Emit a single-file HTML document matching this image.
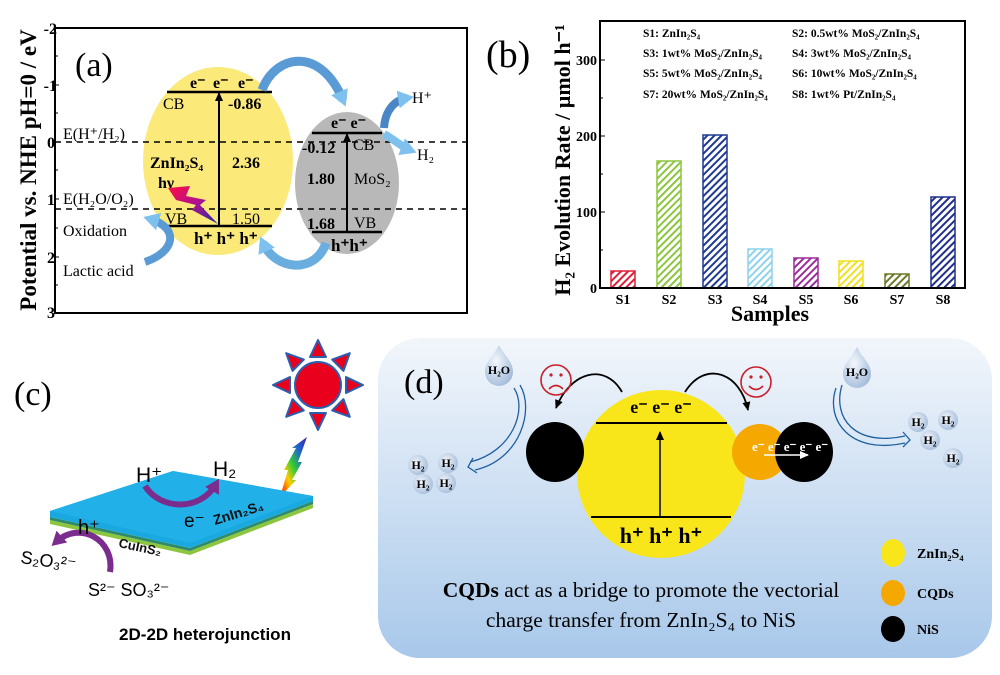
<!DOCTYPE html>
<html><head><meta charset="utf-8"><style>
html,body{margin:0;padding:0;background:#fff;}
svg{display:block}
.s{font-family:"Liberation Serif",serif;}
.ss{font-family:"Liberation Sans",sans-serif;}
</style></head><body>
<svg width="1000" height="675" viewBox="0 0 1000 675" xmlns="http://www.w3.org/2000/svg">
<defs>
<marker id="ah" markerUnits="userSpaceOnUse" markerWidth="10" markerHeight="10" refX="8" refY="5" orient="auto"><path d="M0,1 L9,5 L0,9 z" fill="#000"/></marker>
<marker id="ahw" markerUnits="userSpaceOnUse" markerWidth="10" markerHeight="10" refX="8" refY="5" orient="auto"><path d="M0,1 L9,5 L0,9 z" fill="#fff"/></marker>
<marker id="ahp" markerUnits="userSpaceOnUse" markerWidth="16" markerHeight="16" refX="8" refY="8" orient="auto"><path d="M0,0 L14,8 L0,16 z" fill="#7b2d8e"/></marker>
<marker id="ahb" markerUnits="userSpaceOnUse" markerWidth="18" markerHeight="18" refX="9" refY="9" orient="auto"><path d="M0,0 L16,9 L0,18 z" fill="#7ec0ee"/></marker>
<linearGradient id="bg" x1="0" y1="0" x2="0" y2="1"><stop offset="0" stop-color="#f2f6fb"/><stop offset="1" stop-color="#a8c8ea"/></linearGradient>
<linearGradient id="bolt" x1="0" y1="0" x2="1" y2="1"><stop offset="0" stop-color="#ff1040"/><stop offset="0.5" stop-color="#b01090"/><stop offset="1" stop-color="#2030a0"/></linearGradient>
<linearGradient id="rb" x1="0" y1="1" x2="1" y2="0"><stop offset="0" stop-color="#ff0000"/><stop offset="0.3" stop-color="#ffcc00"/><stop offset="0.5" stop-color="#33cc33"/><stop offset="0.75" stop-color="#2060d0"/><stop offset="1" stop-color="#4020a0"/></linearGradient>
<radialGradient id="drop" cx="0.4" cy="0.4" r="0.7"><stop offset="0" stop-color="#f4f8fd"/><stop offset="1" stop-color="#9fb8d8"/></radialGradient>
<pattern id="p1" width="5" height="5" patternUnits="userSpaceOnUse" patternTransform="rotate(45)"><rect width="5" height="5" fill="#fff"/><rect width="2" height="5" fill="#e0203a"/></pattern>
<pattern id="p2" width="5" height="5" patternUnits="userSpaceOnUse" patternTransform="rotate(45)"><rect width="5" height="5" fill="#fff"/><rect width="2" height="5" fill="#8cc63f"/></pattern>
<pattern id="p3" width="5" height="5" patternUnits="userSpaceOnUse" patternTransform="rotate(45)"><rect width="5" height="5" fill="#fff"/><rect width="2" height="5" fill="#1f3a93"/></pattern>
<pattern id="p4" width="5" height="5" patternUnits="userSpaceOnUse" patternTransform="rotate(45)"><rect width="5" height="5" fill="#fff"/><rect width="2" height="5" fill="#8dd3ea"/></pattern>
<pattern id="p5" width="5" height="5" patternUnits="userSpaceOnUse" patternTransform="rotate(45)"><rect width="5" height="5" fill="#fff"/><rect width="2" height="5" fill="#9b2d9b"/></pattern>
<pattern id="p6" width="5" height="5" patternUnits="userSpaceOnUse" patternTransform="rotate(45)"><rect width="5" height="5" fill="#fff"/><rect width="2" height="5" fill="#f0e020"/></pattern>
<pattern id="p7" width="5" height="5" patternUnits="userSpaceOnUse" patternTransform="rotate(45)"><rect width="5" height="5" fill="#fff"/><rect width="2" height="5" fill="#6b7a2a"/></pattern>
<pattern id="p8" width="5" height="5" patternUnits="userSpaceOnUse" patternTransform="rotate(45)"><rect width="5" height="5" fill="#fff"/><rect width="2" height="5" fill="#1f2f8a"/></pattern>
</defs>

<!-- ===== Panel (a) ===== -->
<g class="s" font-weight="bold">
<text transform="translate(36,170) rotate(-90)" text-anchor="middle" font-size="23">Potential vs. NHE  pH=0 / eV</text>
<g font-size="16" text-anchor="end">
<text x="57" y="34">-2</text><text x="57" y="91">-1</text><text x="55" y="148">0</text><text x="55" y="205">1</text><text x="55" y="263">2</text><text x="55" y="318">3</text>
</g>
</g>
<ellipse cx="218" cy="161" rx="75" ry="94" fill="#fbe97a"/>
<ellipse cx="347" cy="183" rx="52" ry="71" fill="#b8b8b8"/>
<rect x="55" y="28" width="412" height="285" fill="none" stroke="#000" stroke-width="2"/>
<g stroke="#000" stroke-width="1"><line x1="55" y1="85" x2="59" y2="85"/><line x1="55" y1="142" x2="59" y2="142"/><line x1="55" y1="199" x2="59" y2="199"/><line x1="55" y1="257" x2="59" y2="257"/><line x1="55" y1="56" x2="58" y2="56"/><line x1="55" y1="113" x2="58" y2="113"/><line x1="55" y1="170" x2="58" y2="170"/><line x1="55" y1="228" x2="58" y2="228"/><line x1="55" y1="285" x2="58" y2="285"/></g>
<line x1="55" y1="142" x2="467" y2="142" stroke="#000" stroke-width="1.5" stroke-dasharray="6,5"/>
<line x1="55" y1="209" x2="467" y2="209" stroke="#000" stroke-width="1.5" stroke-dasharray="6,5"/>
<g stroke="#000" stroke-width="2.5">
<line x1="167" y1="92" x2="272" y2="92"/><line x1="167" y1="226" x2="272" y2="226"/>
<line x1="312" y1="133" x2="382" y2="133"/><line x1="312" y1="232" x2="382" y2="232"/>
</g>
<line x1="219" y1="226" x2="219" y2="93" stroke="#000" stroke-width="2" marker-end="url(#ah)"/>
<line x1="347" y1="232" x2="347" y2="134" stroke="#000" stroke-width="2" marker-end="url(#ah)"/>
<polygon points="168,188 190,186 186,196 206,200 200,205 218,224 192,210 196,205 176,200" fill="url(#bolt)"/>
<!-- blue arrows -->
<g fill="none">
<path d="M262,90 C275,55 320,45 343,100" stroke="#5b9bd5" stroke-width="9" marker-end="url(#ahb)"/>
<path d="M384,128 C385,110 395,100 407,98" stroke="#4a86c5" stroke-width="8" marker-end="url(#ahb)"/>
<path d="M384,134 C395,140 400,146 410,150" stroke="#7ec0ee" stroke-width="8" marker-end="url(#ahb)"/>
<path d="M326,243 C315,275 275,270 263,243" stroke="#6aaee0" stroke-width="9" marker-end="url(#ahb)"/>
<path d="M145,262 C175,252 180,228 150,219" stroke="#5b9bd5" stroke-width="8" marker-end="url(#ahb)"/>
</g>
<g class="s" font-weight="bold" font-size="16">
<text x="75" y="76" font-weight="normal" font-size="34">(a)</text>
<text x="190" y="88">e⁻</text><text x="213" y="88">e⁻</text><text x="238" y="88">e⁻</text>
<text x="163" y="109" font-weight="normal">CB</text><text x="228" y="109">-0.86</text>
<text x="63" y="139" font-weight="normal">E(H⁺/H₂)</text>
<text x="150" y="168">ZnIn₂S₄</text><text x="232" y="168">2.36</text>
<text x="158" y="188">hν</text>
<text x="63" y="204" font-weight="normal">E(H₂O/O₂)</text>
<text x="165" y="224" font-weight="normal">VB</text><text x="232" y="224" font-weight="normal">1.50</text>
<text x="63" y="236" font-weight="normal">Oxidation</text>
<text x="194" y="244" font-size="17">h⁺ h⁺ h⁺</text>
<text x="63" y="276" font-weight="normal">Lactic acid</text>
<text x="331" y="128">e⁻ e⁻</text>
<text x="302" y="153">-0.12</text><text x="353" y="150" font-weight="normal">CB</text>
<text x="307" y="184">1.80</text><text x="354" y="184" font-weight="normal">MoS₂</text>
<text x="307" y="229">1.68</text><text x="354" y="228" font-weight="normal">VB</text>
<text x="331" y="251" font-size="17">h⁺h⁺</text>
<text x="412" y="103" font-weight="normal">H⁺</text><text x="417" y="160" font-weight="normal">H₂</text>
</g>

<!-- ===== Panel (b) ===== -->
<g class="s" font-weight="bold">
<text x="486" y="67" font-weight="normal" font-size="38">(b)</text>
<text transform="translate(570,160) rotate(-90)" text-anchor="middle" font-size="22">H₂ Evolution Rate / µmol h⁻¹</text>
<g font-size="14" text-anchor="end"><text x="597" y="293">0</text><text x="597" y="217">100</text><text x="597" y="141">200</text><text x="597" y="65">300</text></g>
</g>
<g stroke="#000" stroke-width="1"><line x1="600" y1="212" x2="605" y2="212"/><line x1="600" y1="136" x2="605" y2="136"/><line x1="600" y1="60" x2="605" y2="60"/><line x1="600" y1="250" x2="603" y2="250"/><line x1="600" y1="174" x2="603" y2="174"/><line x1="600" y1="98" x2="603" y2="98"/></g>
<g stroke-width="1.5">
<rect x="611" y="271" width="24" height="17" fill="url(#p1)" stroke="#e0203a"/>
<rect x="657" y="161" width="24" height="127" fill="url(#p2)" stroke="#8cc63f"/>
<rect x="703" y="135" width="24" height="153" fill="url(#p3)" stroke="#1f3a93"/>
<rect x="748" y="249" width="24" height="39" fill="url(#p4)" stroke="#8dd3ea"/>
<rect x="794" y="258" width="24" height="30" fill="url(#p5)" stroke="#9b2d9b"/>
<rect x="839" y="261" width="24" height="27" fill="url(#p6)" stroke="#f0e020"/>
<rect x="885" y="274" width="24" height="14" fill="url(#p7)" stroke="#6b7a2a"/>
<rect x="931" y="197" width="24" height="91" fill="url(#p8)" stroke="#1f2f8a"/>
</g>
<rect x="600" y="21" width="365" height="267" fill="none" stroke="#000" stroke-width="2"/>
<g class="s" font-weight="bold" font-size="14" text-anchor="middle">
<text x="623" y="304">S1</text><text x="669" y="304">S2</text><text x="715" y="304">S3</text><text x="760" y="304">S4</text><text x="806" y="304">S5</text><text x="851" y="304">S6</text><text x="897" y="304">S7</text><text x="943" y="304">S8</text>
<text x="770" y="321" font-size="22">Samples</text>
</g>
<g class="s" font-weight="bold" font-size="11.5">
<text x="643" y="37">S1: ZnIn₂S₄</text><text x="792" y="37">S2: 0.5wt% MoS₂/ZnIn₂S₄</text>
<text x="643" y="57">S3: 1wt% MoS₂/ZnIn₂S₄</text><text x="792" y="57">S4: 3wt% MoS₂/ZnIn₂S₄</text>
<text x="643" y="77">S5: 5wt% MoS₂/ZnIn₂S₄</text><text x="792" y="77">S6: 10wt% MoS₂/ZnIn₂S₄</text>
<text x="643" y="98">S7: 20wt% MoS₂/ZnIn₂S₄</text><text x="792" y="98">S8: 1wt% Pt/ZnIn₂S₄</text>
</g>

<!-- ===== Panel (c) ===== -->
<text x="14" y="405" class="s" font-size="34">(c)</text>
<g transform="translate(318,385)" fill="#e8001c" stroke="#2a5fb0" stroke-width="2" stroke-linejoin="round">
<g id="ray"><polygon points="-8,-28 8,-28 0,-45"/></g>
<use href="#ray" transform="rotate(45)"/><use href="#ray" transform="rotate(90)"/><use href="#ray" transform="rotate(135)"/><use href="#ray" transform="rotate(180)"/><use href="#ray" transform="rotate(225)"/><use href="#ray" transform="rotate(270)"/><use href="#ray" transform="rotate(315)"/>
<circle r="23"/>
</g>
<polygon points="280,497 288,470 284,470 296,448 292,448 307,437 298,462 302,462 292,480 296,480" fill="url(#rb)"/>
<polygon points="50,520 190,551 313,504 313,508 190,555 50,524" fill="#8cc63f"/>
<polygon points="50,517 190,548 313,501 313,504 190,551 50,520" fill="#2d8a6a"/>
<polygon points="50,511 173,471 313,496 313,501 190,548 50,517" fill="#1aa8e0"/>
<polygon points="50,511 173,471 313,496 190,543" fill="#22b0e8"/>
<g fill="none" stroke="#7b2d8e" stroke-width="6">
<path d="M145,486 C160,510 200,512 216,484" marker-end="url(#ahp)"/>
<path d="M110,572 C115,540 80,520 56,542" marker-end="url(#ahp)"/>
</g>
<g class="ss">
<text x="136" y="482" font-size="21">H⁺</text>
<text x="213" y="476" font-size="21">H₂</text>
<text x="184" y="527" font-size="19">e⁻</text>
<text transform="translate(215,525) rotate(-17)" font-size="14" font-weight="bold" fill="#111">ZnIn₂S₄</text>
<text x="78" y="534" font-size="20">h⁺</text>
<text transform="translate(118,547) rotate(12)" font-size="13" font-weight="bold" fill="#111">CuInS₂</text>
<text transform="translate(20,563) rotate(8)" font-size="18">S₂O₃²⁻</text>
<text x="88" y="596" font-size="18">S²⁻ SO₃²⁻</text>
<text x="205" y="640" font-size="17" font-weight="bold" text-anchor="middle">2D-2D heterojunction</text>
</g>

<!-- ===== Panel (d) ===== -->
<rect x="378" y="338" width="614" height="320" rx="42" fill="url(#bg)"/>
<text x="404" y="393" class="s" font-size="34">(d)</text>
<circle cx="661" cy="474" r="84" fill="#f8e61a"/>
<line x1="596" y1="423" x2="727" y2="423" stroke="#000" stroke-width="2"/>
<line x1="591" y1="517" x2="731" y2="517" stroke="#000" stroke-width="2"/>
<line x1="660" y1="516" x2="660" y2="432" stroke="#000" stroke-width="1.5" marker-end="url(#ah)"/>
<ellipse cx="555" cy="452" rx="29" ry="30" fill="#000"/>
<circle cx="760" cy="452" r="28" fill="#f5a800"/>
<ellipse cx="804" cy="452" rx="29" ry="30" fill="#000"/>
<line x1="764" y1="455" x2="808" y2="455" stroke="#fff" stroke-width="1.5" marker-end="url(#ahw)"/>
<g class="s" font-weight="bold">
<text x="661" y="413" font-size="18" text-anchor="middle">e⁻ e⁻ e⁻</text>
<text x="661" y="543" font-size="22" text-anchor="middle">h⁺ h⁺ h⁺</text>
<text x="752" y="451" font-size="13" fill="#fff">e⁻ e⁻ e⁻ e⁻ e⁻</text>
</g>
<g fill="none" stroke="#000" stroke-width="1.8">
<path d="M622,392 C605,362 570,372 556,408" marker-end="url(#ah)"/>
<path d="M685,392 C705,360 740,372 748,410" marker-end="url(#ah)"/>
</g>
<g fill="none" stroke="#c8202a" stroke-width="1.6">
<circle cx="556" cy="380" r="15"/><circle cx="756" cy="382" r="15"/>
<path d="M549,389 Q556,382 563,389"/><path d="M749,386 Q756,393 763,386"/>
</g>
<g fill="#c8202a"><circle cx="551" cy="375" r="1.6"/><circle cx="561" cy="375" r="1.6"/><circle cx="751" cy="377" r="1.6"/><circle cx="761" cy="377" r="1.6"/></g>
<path d="M499,345 C492,358 485,362 485,372 A14,14 0 0 0 513,372 C513,362 506,358 499,345 z" fill="url(#drop)"/>
<path d="M857,347 C850,360 843,364 843,374 A14,14 0 0 0 871,374 C871,364 864,360 857,347 z" fill="url(#drop)"/>
<g class="s" font-weight="bold" font-size="12"><text x="499" y="374" text-anchor="middle">H₂O</text><text x="857" y="376" text-anchor="middle">H₂O</text></g>
<g fill="none" stroke="#2060a0" stroke-width="1.3">
<path d="M520,385 C535,410 520,460 475,470"/><path d="M514,388 C528,410 512,452 470,462"/>
<path d="M836,388 C825,420 850,455 905,443"/><path d="M842,385 C832,418 855,447 905,436"/>
<path d="M473,458 L468,467 L477,473"/><path d="M903,432 L910,440 L903,447"/>
</g>
<g fill="url(#drop)">
<circle cx="418" cy="465" r="10"/><circle cx="448" cy="463" r="10"/><circle cx="423" cy="484" r="10"/><circle cx="446" cy="483" r="10"/>
<circle cx="918" cy="422" r="10"/><circle cx="948" cy="420" r="10"/><circle cx="930" cy="440" r="10"/><circle cx="953" cy="458" r="10"/>
</g>
<g class="s" font-weight="bold" font-size="12" text-anchor="middle">
<text x="418" y="469">H₂</text><text x="448" y="467">H₂</text><text x="423" y="488">H₂</text><text x="446" y="487">H₂</text>
<text x="918" y="426">H₂</text><text x="948" y="424">H₂</text><text x="930" y="444">H₂</text><text x="953" y="462">H₂</text>
</g>
<g class="s" font-size="21.5" text-anchor="middle">
<text x="641" y="597"><tspan font-weight="bold">CQDs</tspan> act as a bridge to promote the vectorial</text>
<text x="641" y="627">charge transfer from ZnIn₂S₄ to NiS</text>
</g>
<ellipse cx="893" cy="553" rx="12" ry="14" fill="#f8e61a"/>
<ellipse cx="893" cy="593" rx="12" ry="13" fill="#f5a800"/>
<ellipse cx="893" cy="629" rx="12" ry="13" fill="#000"/>
<g class="s" font-weight="bold" font-size="14">
<text x="917" y="558">ZnIn₂S₄</text><text x="917" y="598">CQDs</text><text x="917" y="634">NiS</text>
</g>
</svg>
</body></html>
